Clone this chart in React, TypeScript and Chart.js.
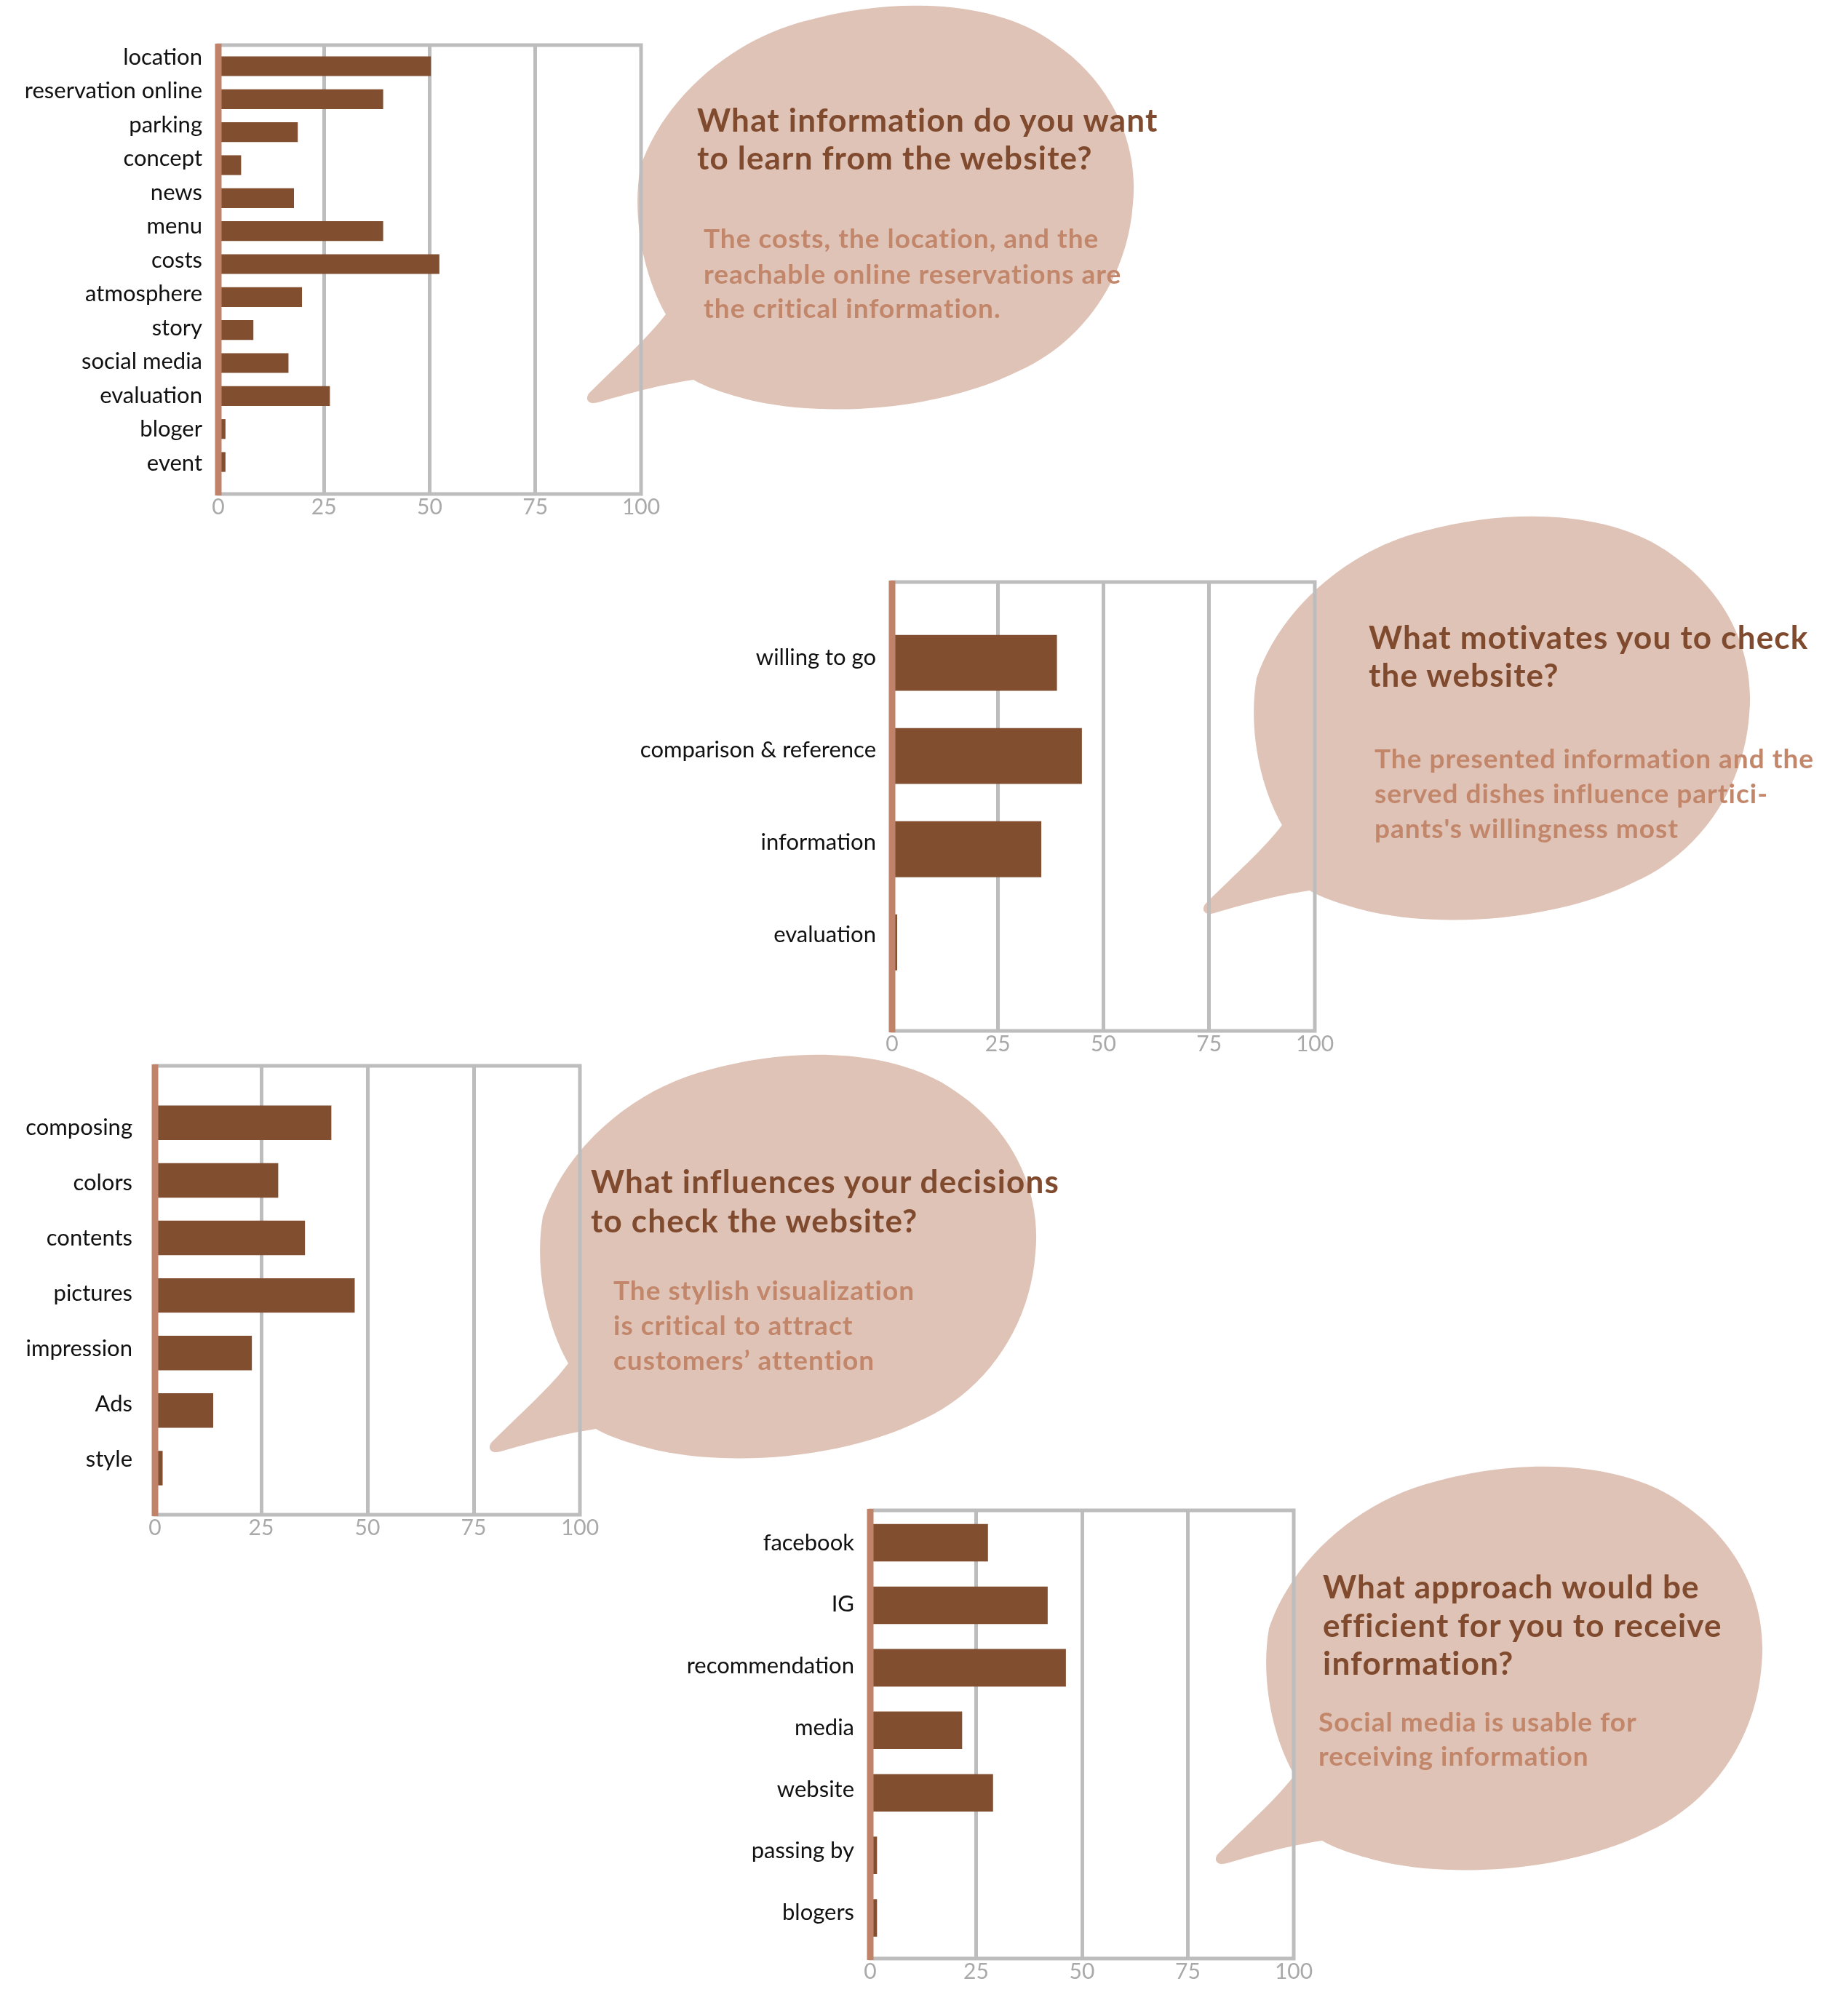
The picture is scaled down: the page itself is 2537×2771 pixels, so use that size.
import { useEffect, useRef } from "react";
import { Chart, registerables } from "chart.js";

Chart.register(...registerables);

// survey answers (share of participants, %)
const infoLabels = ["location", "reservation online", "parking", "concept", "news", "menu", "costs", "atmosphere", "story", "social media", "evaluation", "bloger", "event"];
const infoValues = [50.3, 39, 18.8, 5.4, 17.9, 39, 52.3, 19.8, 8.3, 16.6, 26.4, 1.7, 1.7];

const motiveLabels = ["willing to go", "comparison & reference", "information", "evaluation"];
const motiveValues = [39, 44.9, 35.3, 1.2];

const influenceLabels = ["composing", "colors", "contents", "pictures", "impression", "Ads", "style"];
const influenceValues = [41.5, 29, 35.3, 47, 22.8, 13.7, 1.8];

const approachLabels = ["facebook", "IG", "recommendation", "media", "website", "passing by", "blogers"];
const approachValues = [27.8, 41.9, 46.2, 21.7, 29, 1.6, 1.6];

const xTicks = [0, 25, 50, 75, 100];

const BAR = "#824e30";
const GRID = "#bdbdbd";
const AXIS = "#c0836a";
const TICK = "#a9a9a9";
const BUBBLE = "#dfc3b7";
const TITLE = "#7f4a2d";
const NOTE = "#c2866b";
const FONT = "Lato, 'Open Sans', sans-serif";

const PAD_TOP = 50;
const PAD_RIGHT = 40;
const X_AXIS_H = 50;

const framePlugin = {
  id: "frame",
  beforeDatasetsDraw(chart: any) {
    const { ctx, chartArea: a } = chart;
    ctx.save();
    ctx.strokeStyle = GRID;
    ctx.lineWidth = 5;
    ctx.strokeRect(a.left, a.top, a.right - a.left, a.bottom - a.top);
    ctx.restore();
  },
  afterDatasetsDraw(chart: any) {
    const { ctx, chartArea: a, scales } = chart;
    const x = scales.x.getPixelForValue(0);
    ctx.save();
    ctx.strokeStyle = AXIS;
    ctx.lineWidth = 9;
    ctx.beginPath();
    ctx.moveTo(x, a.top - 2);
    ctx.lineTo(x, a.bottom + 2);
    ctx.stroke();
    ctx.restore();
  },
};

interface PanelProps {
  labels: string[];
  values: number[];
  left: number;
  top: number;
  right: number;
  bottom: number;
  axisWidth: number;
  gap: number;
  range: [number, number];
  labelShift: [number, number];
}

function BarPanel({ labels, values, left, top, right, bottom, axisWidth, gap, range, labelShift }: PanelProps) {
  const canvasRef = useRef<HTMLCanvasElement>(null);

  useEffect(() => {
    if (!canvasRef.current) return;
    const ctx = canvasRef.current.getContext("2d");
    if (!ctx) return;

    // the text labels in the original sit a little off the bar centres
    const n = labels.length;
    const [s0, s1] = labelShift;
    const labelPos = labels.map((_, i) => i + s0 + (n > 1 ? ((s1 - s0) * i) / (n - 1) : 0));
    const step = n > 1 ? 1 + (s1 - s0) / (n - 1) : 1;
    const barPct = step < 1 ? 0.6 / step : 0.6;

    const chart = new Chart(ctx, {
      type: "bar",
      data: {
        datasets: [
          {
            data: values.map((v, i) => ({ x: v, y: i })),
            backgroundColor: BAR,
            barPercentage: barPct,
            categoryPercentage: 1,
          },
        ],
      },
      options: {
        indexAxis: "y",
        animation: false,
        responsive: true,
        maintainAspectRatio: false,
        layout: { padding: { top: PAD_TOP, right: PAD_RIGHT, left: 0, bottom: 0 } },
        plugins: { legend: { display: false }, tooltip: { enabled: false } },
        scales: {
          x: {
            type: "linear",
            min: 0,
            max: 100,
            offset: false,
            afterBuildTicks: (s: any) => {
              s.ticks = xTicks.map((v) => ({ value: v }));
            },
            afterFit: (s: any) => {
              s.height = X_AXIS_H;
            },
            grid: {
              color: (c: any) => (c.tick && c.tick.value > 0 && c.tick.value < 100 ? GRID : "rgba(0,0,0,0)"),
              lineWidth: 5,
              drawTicks: false,
              offset: false,
            },
            border: { display: false },
            ticks: {
              color: TICK,
              font: { family: FONT, size: 30 },
              padding: 0,
              maxRotation: 0,
              minRotation: 0,
              autoSkip: false,
            },
          },
          y: {
            type: "linear",
            reverse: true,
            offset: false,
            min: range[0],
            max: range[1],
            afterBuildTicks: (s: any) => {
              s.ticks = labelPos.map((v) => ({ value: v }));
            },
            afterFit: (s: any) => {
              s.width = axisWidth;
            },
            grid: { display: false, drawTicks: false, offset: false },
            border: { display: false },
            ticks: {
              callback: (_v: any, idx: number) => labels[idx] ?? "",
              color: "#111",
              font: { family: FONT, size: 31 },
              padding: gap,
              autoSkip: false,
            },
          },
        },
      },
      plugins: [framePlugin],
    });

    return () => {
      chart.destroy();
    };
  }, [labels, values, axisWidth, gap, range, labelShift]);

  const width = axisWidth + (right - left) + PAD_RIGHT;
  const height = PAD_TOP + (bottom - top) + X_AXIS_H;

  return (
    <div
      style={{
        position: "absolute",
        left: left - axisWidth,
        top: top - PAD_TOP,
        width,
        height,
        zIndex: 1,
      }}
    >
      <canvas ref={canvasRef} />
    </div>
  );
}

// speech bubble outline, drawn once and moved to each spot
const bubblePath =
  "M 915 432 C 885 380, 868 300, 880 230 C 910 140, 1000 55, 1110 28 C 1230 -5, 1370 0, 1450 60 " +
  "C 1530 115, 1565 200, 1557 280 C 1550 380, 1490 470, 1400 510 C 1300 560, 1150 575, 1040 552 " +
  "C 1010 545, 975 535, 953 522 C 900 530, 850 545, 822 553 C 808 557, 803 548, 810 540 " +
  "C 850 500, 890 465, 915 432 Z";

const bubbleShifts: [number, number][] = [
  [0, 0],
  [847, 702],
  [-134, 1442],
  [864, 2008],
];

const questions = [
  { x: 958, y: [181, 233], lines: ["What information do you want", "to learn from the website?"] },
  { x: 1881, y: [892, 944], lines: ["What motivates you to check", "the website?"] },
  { x: 812, y: [1640, 1694], lines: ["What influences your decisions", "to check the website?"] },
  { x: 1818, y: [2197, 2250, 2302], lines: ["What approach would be", "efficient for you to receive", "information?"] },
];

const answers = [
  { x: 967, y: [341, 390, 437], lines: ["The costs, the location, and the", "reachable online reservations are", "the critical information."] },
  { x: 1889, y: [1056, 1104, 1152], lines: ["The presented information and the", "served dishes influence partici-", "pants's willingness most"] },
  { x: 843, y: [1787, 1835, 1883], lines: ["The stylish visualization", "is critical to attract", "customers\u2019 attention"] },
  { x: 1812, y: [2380, 2427], lines: ["Social media is usable for", "receiving information"] },
];

export default function App() {
  return (
    <div
      style={{
        position: "absolute",
        left: 0,
        top: 0,
        width: 2537,
        height: 2771,
        background: "#ffffff",
        overflow: "hidden",
      }}
    >
      <svg width={2537} height={2771} style={{ position: "absolute", left: 0, top: 0, zIndex: 0 }}>
        {bubbleShifts.map(([dx, dy], i) => (
          <path key={i} d={bubblePath} transform={`translate(${dx} ${dy})`} fill={BUBBLE} />
        ))}
      </svg>

      <BarPanel labels={infoLabels} values={infoValues} left={300} top={62} right={881} bottom={679} axisWidth={300} gap={22} range={[-0.64, 12.97]} labelShift={[-0.27, 0.04]} />
      <BarPanel labels={motiveLabels} values={motiveValues} left={1226} top={800} right={1807} bottom={1417} axisWidth={400} gap={22} range={[-0.867, 3.95]} labelShift={[-0.055, -0.08]} />
      <BarPanel labels={influenceLabels} values={influenceValues} left={213} top={1465} right={797} bottom={2082} axisWidth={213} gap={31} range={[-0.99, 6.81]} labelShift={[0.09, -0.155]} />
      <BarPanel labels={approachLabels} values={approachValues} left={1196} top={2076} right={1778} bottom={2692} axisWidth={296} gap={22} range={[-0.518, 6.65]} labelShift={[0, -0.08]} />

      <svg
        width={2537}
        height={2771}
        style={{ position: "absolute", left: 0, top: 0, zIndex: 2, pointerEvents: "none" }}
      >
        {questions.map((q, i) =>
          q.lines.map((line, j) => (
            <text key={`q${i}-${j}`} x={q.x} y={q.y[j]} fontFamily={FONT} fontWeight={700} fontSize={44} letterSpacing={1.2} fill={TITLE}>
              {line}
            </text>
          ))
        )}
        {answers.map((a, i) =>
          a.lines.map((line, j) => (
            <text key={`a${i}-${j}`} x={a.x} y={a.y[j]} fontFamily={FONT} fontWeight={700} fontSize={37} letterSpacing={1} fill={NOTE}>
              {line}
            </text>
          ))
        )}
      </svg>
    </div>
  );
}
